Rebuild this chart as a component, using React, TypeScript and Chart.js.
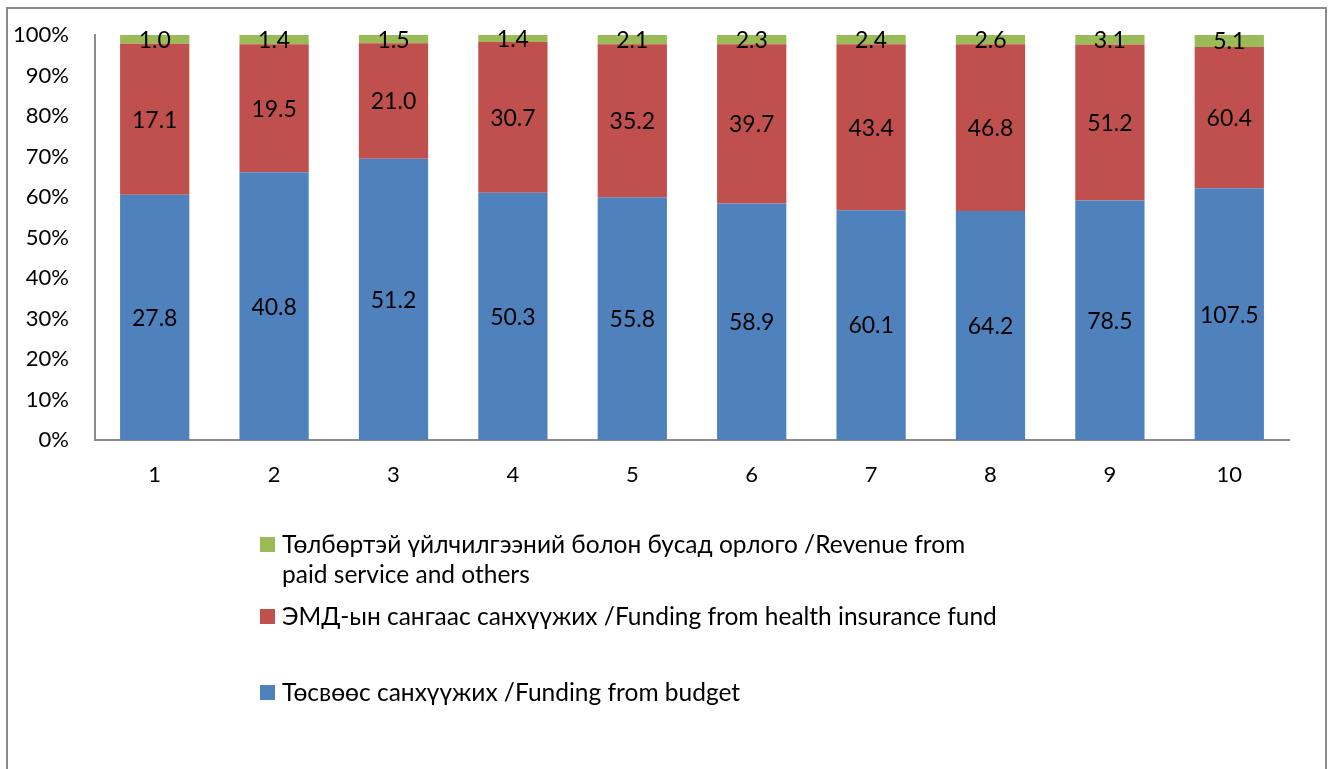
import { useEffect, useRef } from "react";
import { Chart, registerables } from "chart.js";

Chart.register(...registerables);

const categories = ["1", "2", "3", "4", "5", "6", "7", "8", "9", "10"];
const budget = [27.8, 40.8, 51.2, 50.3, 55.8, 58.9, 60.1, 64.2, 78.5, 107.5];
const insurance = [17.1, 19.5, 21.0, 30.7, 35.2, 39.7, 43.4, 46.8, 51.2, 60.4];
const other = [1.0, 1.4, 1.5, 1.4, 2.1, 2.3, 2.4, 2.6, 3.1, 5.1];
const yTicks = [0, 10, 20, 30, 40, 50, 60, 70, 80, 90, 100];

const nameBudget = "Төсвөөс санхүүжих /Funding from budget";
const nameInsurance = "ЭМД-ын сангаас санхүүжих /Funding from health insurance fund";
const nameOther = "Төлбөртэй үйлчилгээний болон бусад орлого /Revenue from paid service and others";

const colBudget = "#4F81BD";
const colInsurance = "#C0504D";
const colOther = "#9BBB59";

const FONT = "Lato, 'Noto Sans', sans-serif";

const totals = categories.map((_, i) => budget[i] + insurance[i] + other[i]);
const toPct = (arr: number[]) => arr.map((v, i) => (v / totals[i]) * 100);

const labelPlugin = {
  id: "segLabels",
  afterDatasetsDraw(chart: any) {
    const ctx = chart.ctx;
    ctx.save();
    ctx.font = `23px ${FONT}`;
    ctx.fillStyle = "#000";
    ctx.textAlign = "center";
    ctx.textBaseline = "middle";
    chart.data.datasets.forEach((ds: any, di: number) => {
      const meta = chart.getDatasetMeta(di);
      meta.data.forEach((el: any, i: number) => {
        const p = el.getProps(["x", "y", "base"], true);
        const cy = (p.y + p.base) / 2;
        ctx.fillText(ds.raw[i].toFixed(1), p.x, cy + 1);
      });
    });
    ctx.restore();
  },
};

const framePlugin = {
  id: "frame",
  beforeDraw(chart: any) {
    const ctx = chart.ctx;
    ctx.save();
    ctx.fillStyle = "#fff";
    ctx.fillRect(0, 0, chart.width, chart.height);
    ctx.strokeStyle = "#8a8a8a";
    ctx.lineWidth = 2;
    ctx.strokeRect(7, 8, 1319, 800);
    ctx.restore();
  },
};

const legendPlugin = {
  id: "customLegend",
  afterDraw(chart: any) {
    const ctx = chart.ctx;
    const items = [
      { name: nameOther, color: colOther, y: 545 },
      { name: nameInsurance, color: colInsurance, y: 617 },
      { name: nameBudget, color: colBudget, y: 693 },
    ];
    ctx.save();
    ctx.font = `24.5px ${FONT}`;
    ctx.textBaseline = "middle";
    ctx.textAlign = "left";
    const maxW = 722;
    items.forEach((it) => {
      ctx.fillStyle = it.color;
      ctx.fillRect(260, it.y - 8, 15, 15);
      ctx.fillStyle = "#000";
      const words = it.name.split(" ");
      const lines: string[] = [];
      let cur = "";
      words.forEach((w) => {
        const test = cur ? cur + " " + w : w;
        if (ctx.measureText(test).width > maxW && cur) {
          lines.push(cur);
          cur = w;
        } else cur = test;
      });
      if (cur) lines.push(cur);
      lines.forEach((l, li) => ctx.fillText(l, 282, it.y + li * 30));
    });
    ctx.restore();
  },
};

export default function App() {
  const ref = useRef<HTMLCanvasElement>(null);
  useEffect(() => {
    document.body.style.margin = "0";
    const chart = new Chart(ref.current!, {
      type: "bar",
      data: {
        labels: categories,
        datasets: [
          { label: nameBudget, data: toPct(budget), raw: budget, backgroundColor: colBudget } as any,
          { label: nameInsurance, data: toPct(insurance), raw: insurance, backgroundColor: colInsurance } as any,
          { label: nameOther, data: toPct(other), raw: other, backgroundColor: colOther } as any,
        ],
      },
      options: {
        animation: false,
        responsive: false,
        maintainAspectRatio: false,
        layout: { padding: { left: 0, top: 35, right: 42, bottom: 0 } },
        datasets: { bar: { barPercentage: 0.58, categoryPercentage: 1 } },
        plugins: { legend: { display: false }, tooltip: { enabled: false } },
        scales: {
          x: {
            stacked: true,
            grid: { display: false, drawTicks: false },
            border: { display: true, color: "#8c8c8c", width: 2 },
            ticks: { color: "#000", font: { family: FONT, size: 22 }, padding: 22 },
            afterFit: (s: any) => {
              s.height = 769 - 440;
              s.paddingLeft = 0;
              s.paddingRight = 0;
            },
          },
          y: {
            stacked: true,
            min: 0,
            max: 100,
            grid: { display: false, drawTicks: false },
            border: { display: true, color: "#8c8c8c", width: 2 },
            afterBuildTicks: (s: any) => {
              s.ticks = yTicks.map((v) => ({ value: v }));
            },
            ticks: {
              color: "#000",
              font: { family: FONT, size: 22 },
              padding: 26,
              callback: (v: any) => `${v}%`,
            },
            afterFit: (s: any) => {
              s.width = 95;
              s.paddingTop = 0;
              s.paddingBottom = 0;
            },
          },
        },
      },
      plugins: [framePlugin, labelPlugin, legendPlugin],
    });
    return () => chart.destroy();
  }, []);
  return <canvas ref={ref} width={1331} height={769} style={{ display: "block" }} />;
}
